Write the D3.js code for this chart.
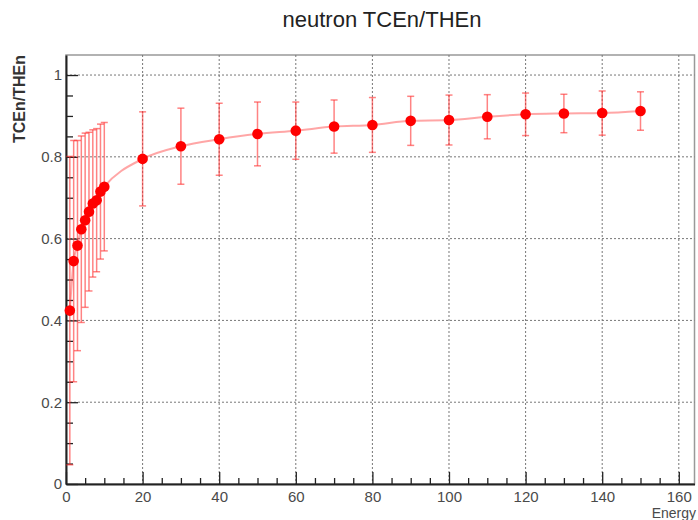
<!DOCTYPE html>
<html>
<head>
<meta charset="utf-8">
<style>
    body { margin: 0; background: #fff; }
    svg { display: block; font-family: "Liberation Sans", Arial, sans-serif; }
    .tick text { fill: #4a4a4a; font-size: 15px; }
    .grid line { stroke: #777; stroke-dasharray: 2,2; }
</style>
<script src="https://d3js.org/d3.v7.min.js"></script>
</head>
<body>
<svg width="698" height="520"></svg>
<script>
    // data
    var energy = [1, 2, 3, 4, 5, 6, 7, 8, 9, 10, 20, 30, 40, 50, 60, 70, 80, 90, 100, 110, 120, 130, 140, 150];
    var ratio = [0.424, 0.545, 0.583, 0.623, 0.645, 0.666, 0.686, 0.694, 0.715, 0.727, 0.795, 0.826,
                 0.843, 0.856, 0.864, 0.874, 0.878, 0.888, 0.890, 0.898, 0.904, 0.906, 0.907, 0.912];
    var err = [0.377, 0.295, 0.257, 0.228, 0.213, 0.194, 0.180, 0.175, 0.165, 0.157, 0.115, 0.093,
               0.088, 0.078, 0.070, 0.065, 0.067, 0.060, 0.061, 0.054, 0.052, 0.047, 0.054, 0.047];
    var xTicks = [0, 20, 40, 60, 80, 100, 120, 140, 160];
    var yTicks = [0, 0.2, 0.4, 0.6, 0.8, 1];

    var svg = d3.select("svg");
    var pLeft = 66, pRight = 694.5, pTop = 55, pBottom = 484;

    var x = d3.scaleLinear().domain([0, 164.1]).range([pLeft, pRight]);
    var y = d3.scaleLinear().domain([0, 1.049]).range([pBottom, pTop]);

    var xMinor = d3.range(5, 164, 5).filter(function (v) { return v % 20 != 0; });
    var yMinor = d3.range(1, 21).map(function (i) { return i * 0.05; }).filter(function (v, i) { return (i + 1) % 4 != 0; });

    // frame
    svg.append("rect")
        .attr("x", pLeft).attr("y", pTop)
        .attr("width", pRight - pLeft).attr("height", pBottom - pTop)
        .attr("fill", "none").attr("stroke", "#999").attr("stroke-width", 1.5);

    // grid
    var grid = svg.append("g").attr("class", "grid");
    grid.selectAll(".gx").data(xTicks.slice(1)).enter().append("line")
        .attr("x1", d => x(d)).attr("x2", d => x(d))
        .attr("y1", pTop).attr("y2", pBottom);
    grid.selectAll(".gy").data(yTicks.slice(1)).enter().append("line")
        .attr("x1", pLeft).attr("x2", pRight)
        .attr("y1", d => y(d)).attr("y2", d => y(d));

    // axes, ticks pointing inside like ROOT
    svg.append("g").attr("transform", "translate(0," + pBottom + ")")
        .call(d3.axisBottom(x).tickValues(xTicks).tickSizeInner(-12).tickSizeOuter(0).tickPadding(7));
    svg.append("g").attr("transform", "translate(0," + pBottom + ")")
        .call(d3.axisBottom(x).tickValues(xMinor).tickSizeInner(-6).tickSizeOuter(0).tickFormat(""))
        .select(".domain").remove();

    svg.append("g").attr("transform", "translate(" + pLeft + ",0)")
        .call(d3.axisLeft(y).tickValues(yTicks).tickSizeInner(-12).tickSizeOuter(0).tickPadding(4)
            .tickFormat(d3.format("~g")));
    svg.append("g").attr("transform", "translate(" + pLeft + ",0)")
        .call(d3.axisLeft(y).tickValues(yMinor).tickSizeInner(-7).tickSizeOuter(0).tickFormat(""))
        .select(".domain").remove();

    svg.selectAll(".domain").attr("stroke", "#222").attr("stroke-width", 2);
    svg.selectAll(".tick line").attr("stroke", "#222").attr("stroke-width", 1.3);

    var pts = energy.map(function (e, i) { return { e: e, v: ratio[i], s: err[i] }; });

    // smooth curve
    svg.append("path")
        .datum(pts)
        .attr("fill", "none")
        .attr("stroke", "#ff2020")
        .attr("stroke-opacity", 0.4)
        .attr("stroke-width", 2)
        .attr("d", d3.line().x(d => x(d.e)).y(d => y(d.v)).curve(d3.curveMonotoneX));

    // error bars
    var eb = svg.append("g").attr("stroke", "#ff3030").attr("stroke-opacity", 0.6).attr("stroke-width", 1.5);
    eb.selectAll(".bar").data(pts).enter().append("line")
        .attr("x1", d => x(d.e)).attr("x2", d => x(d.e))
        .attr("y1", d => y(d.v + d.s)).attr("y2", d => y(d.v - d.s));
    eb.selectAll(".capTop").data(pts).enter().append("line")
        .attr("x1", d => x(d.e) - 3.5).attr("x2", d => x(d.e) + 3.5)
        .attr("y1", d => y(d.v + d.s)).attr("y2", d => y(d.v + d.s));
    eb.selectAll(".capBot").data(pts).enter().append("line")
        .attr("x1", d => x(d.e) - 3.5).attr("x2", d => x(d.e) + 3.5)
        .attr("y1", d => y(d.v - d.s)).attr("y2", d => y(d.v - d.s));

    // markers
    svg.append("g").selectAll("circle").data(pts).enter().append("circle")
        .attr("cx", d => x(d.e)).attr("cy", d => y(d.v))
        .attr("r", 5.3).attr("fill", "#ff0000");

    // titles
    svg.append("text")
        .attr("x", 382).attr("y", 27)
        .attr("text-anchor", "middle")
        .attr("font-size", 22).attr("fill", "#222")
        .text("neutron TCEn/THEn");

    svg.append("text")
        .attr("transform", "translate(25," + pTop + ") rotate(-90)")
        .attr("text-anchor", "end")
        .attr("font-size", 16).attr("font-weight", "bold").attr("fill", "#333")
        .text("TCEn/THEn");

    svg.append("text")
        .attr("x", 696).attr("y", 518)
        .attr("text-anchor", "end")
        .attr("font-size", 14).attr("fill", "#4a4a4a")
        .text("Energy");
</script>
</body>
</html>
